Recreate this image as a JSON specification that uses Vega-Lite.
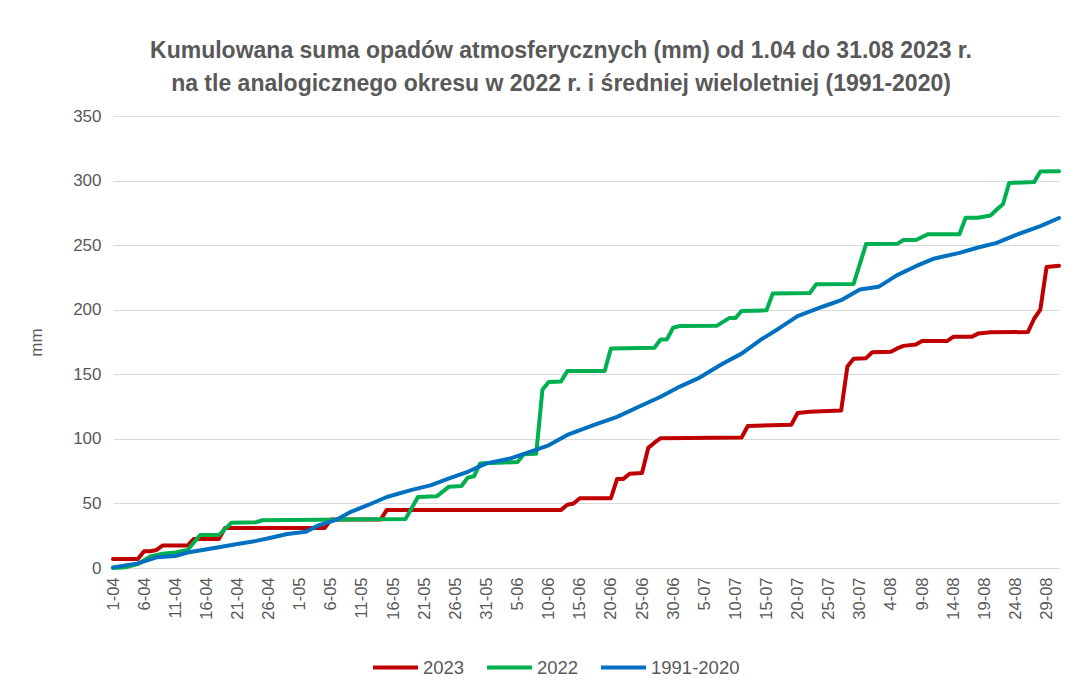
{
  "$schema": "https://vega.github.io/schema/vega-lite/v6.json",
  "autosize": {"type": "none"},
  "width": 946,
  "height": 452,
  "padding": {"left": 113, "top": 116, "right": 25, "bottom": 128},
  "background": "white",
  "title": {
    "text": ["Kumulowana suma opadów atmosferycznych (mm) od 1.04 do 31.08 2023 r.", "na tle analogicznego okresu w 2022 r. i średniej wieloletniej (1991-2020)"],
    "font": "Liberation Sans",
    "fontSize": 23,
    "fontWeight": "bold",
    "color": "#595959",
    "lineHeight": 33,
    "anchor": "middle",
    "frame": "group",
    "dx": -25,
    "offset": 11
  },
  "config": {
    "view": {"stroke": null},
    "font": "Liberation Sans"
  },
  "data": {
    "values": [
      {"s": "2023", "d": 0, "v": 7},
      {"s": "2023", "d": 4, "v": 7},
      {"s": "2023", "d": 5, "v": 13},
      {"s": "2023", "d": 6, "v": 13},
      {"s": "2023", "d": 7, "v": 14},
      {"s": "2023", "d": 8, "v": 17.5},
      {"s": "2023", "d": 12, "v": 17.5},
      {"s": "2023", "d": 13, "v": 22.5},
      {"s": "2023", "d": 17, "v": 22.5},
      {"s": "2023", "d": 18, "v": 31},
      {"s": "2023", "d": 34, "v": 31},
      {"s": "2023", "d": 35, "v": 37.5},
      {"s": "2023", "d": 43, "v": 37.5},
      {"s": "2023", "d": 44, "v": 45},
      {"s": "2023", "d": 72, "v": 45},
      {"s": "2023", "d": 73, "v": 49},
      {"s": "2023", "d": 74, "v": 50},
      {"s": "2023", "d": 75, "v": 54},
      {"s": "2023", "d": 80, "v": 54},
      {"s": "2023", "d": 81, "v": 69},
      {"s": "2023", "d": 82, "v": 69},
      {"s": "2023", "d": 83, "v": 73},
      {"s": "2023", "d": 85, "v": 73.5},
      {"s": "2023", "d": 86, "v": 93},
      {"s": "2023", "d": 87, "v": 97},
      {"s": "2023", "d": 88, "v": 100.5},
      {"s": "2023", "d": 101, "v": 101},
      {"s": "2023", "d": 102, "v": 110},
      {"s": "2023", "d": 109, "v": 111},
      {"s": "2023", "d": 110, "v": 120},
      {"s": "2023", "d": 112, "v": 121},
      {"s": "2023", "d": 117, "v": 122},
      {"s": "2023", "d": 118, "v": 156},
      {"s": "2023", "d": 119, "v": 162},
      {"s": "2023", "d": 121, "v": 162.5},
      {"s": "2023", "d": 122, "v": 167},
      {"s": "2023", "d": 125, "v": 167.5},
      {"s": "2023", "d": 126, "v": 170},
      {"s": "2023", "d": 127, "v": 172},
      {"s": "2023", "d": 129, "v": 173},
      {"s": "2023", "d": 130, "v": 175.7},
      {"s": "2023", "d": 134, "v": 175.7},
      {"s": "2023", "d": 135, "v": 179},
      {"s": "2023", "d": 138, "v": 179},
      {"s": "2023", "d": 139, "v": 181.5},
      {"s": "2023", "d": 141, "v": 182.5},
      {"s": "2023", "d": 147, "v": 182.7},
      {"s": "2023", "d": 148, "v": 193},
      {"s": "2023", "d": 149, "v": 200},
      {"s": "2023", "d": 150, "v": 233},
      {"s": "2023", "d": 152, "v": 234},

      {"s": "2022", "d": 0, "v": 0},
      {"s": "2022", "d": 2, "v": 0.5},
      {"s": "2022", "d": 4, "v": 3},
      {"s": "2022", "d": 5, "v": 6},
      {"s": "2022", "d": 6, "v": 9},
      {"s": "2022", "d": 8, "v": 11},
      {"s": "2022", "d": 10, "v": 12},
      {"s": "2022", "d": 12, "v": 14},
      {"s": "2022", "d": 14, "v": 25.5},
      {"s": "2022", "d": 17, "v": 25.5},
      {"s": "2022", "d": 19, "v": 35},
      {"s": "2022", "d": 23, "v": 35.5},
      {"s": "2022", "d": 24, "v": 37},
      {"s": "2022", "d": 47, "v": 38},
      {"s": "2022", "d": 49, "v": 55},
      {"s": "2022", "d": 52, "v": 55.5},
      {"s": "2022", "d": 54, "v": 63},
      {"s": "2022", "d": 56, "v": 63.5},
      {"s": "2022", "d": 57, "v": 70},
      {"s": "2022", "d": 58, "v": 71},
      {"s": "2022", "d": 59, "v": 81},
      {"s": "2022", "d": 65, "v": 82},
      {"s": "2022", "d": 66, "v": 88},
      {"s": "2022", "d": 68, "v": 88.5},
      {"s": "2022", "d": 69, "v": 138},
      {"s": "2022", "d": 70, "v": 144},
      {"s": "2022", "d": 72, "v": 144.5},
      {"s": "2022", "d": 73, "v": 152.5},
      {"s": "2022", "d": 79, "v": 152.5},
      {"s": "2022", "d": 80, "v": 170},
      {"s": "2022", "d": 87, "v": 170.5},
      {"s": "2022", "d": 88, "v": 177},
      {"s": "2022", "d": 89, "v": 177},
      {"s": "2022", "d": 90, "v": 186},
      {"s": "2022", "d": 91, "v": 187.3},
      {"s": "2022", "d": 97, "v": 187.5},
      {"s": "2022", "d": 99, "v": 193.5},
      {"s": "2022", "d": 100, "v": 193.5},
      {"s": "2022", "d": 101, "v": 199},
      {"s": "2022", "d": 105, "v": 199.5},
      {"s": "2022", "d": 106, "v": 212.6},
      {"s": "2022", "d": 112, "v": 213},
      {"s": "2022", "d": 113, "v": 219.8},
      {"s": "2022", "d": 119, "v": 220},
      {"s": "2022", "d": 121, "v": 250.8},
      {"s": "2022", "d": 126, "v": 251},
      {"s": "2022", "d": 127, "v": 254},
      {"s": "2022", "d": 129, "v": 254},
      {"s": "2022", "d": 131, "v": 258.5},
      {"s": "2022", "d": 136, "v": 258.5},
      {"s": "2022", "d": 137, "v": 271.2},
      {"s": "2022", "d": 139, "v": 271.2},
      {"s": "2022", "d": 141, "v": 273},
      {"s": "2022", "d": 142, "v": 277.6},
      {"s": "2022", "d": 143, "v": 281.7},
      {"s": "2022", "d": 144, "v": 298.2},
      {"s": "2022", "d": 148, "v": 298.8},
      {"s": "2022", "d": 149, "v": 307},
      {"s": "2022", "d": 152, "v": 307.3},

      {"s": "1991-2020", "d": 0, "v": 0.5},
      {"s": "1991-2020", "d": 4, "v": 3.6},
      {"s": "1991-2020", "d": 7, "v": 8.3},
      {"s": "1991-2020", "d": 10, "v": 9.3},
      {"s": "1991-2020", "d": 12, "v": 12},
      {"s": "1991-2020", "d": 17, "v": 16},
      {"s": "1991-2020", "d": 20, "v": 18.6},
      {"s": "1991-2020", "d": 23, "v": 21},
      {"s": "1991-2020", "d": 25, "v": 23},
      {"s": "1991-2020", "d": 28, "v": 26.3},
      {"s": "1991-2020", "d": 31, "v": 28},
      {"s": "1991-2020", "d": 33, "v": 33},
      {"s": "1991-2020", "d": 36, "v": 37.5},
      {"s": "1991-2020", "d": 38, "v": 43},
      {"s": "1991-2020", "d": 41, "v": 48.8},
      {"s": "1991-2020", "d": 44, "v": 55},
      {"s": "1991-2020", "d": 48, "v": 60.5},
      {"s": "1991-2020", "d": 51, "v": 64},
      {"s": "1991-2020", "d": 54, "v": 69.4},
      {"s": "1991-2020", "d": 57, "v": 74.5},
      {"s": "1991-2020", "d": 60, "v": 81},
      {"s": "1991-2020", "d": 64, "v": 85},
      {"s": "1991-2020", "d": 67, "v": 90},
      {"s": "1991-2020", "d": 70, "v": 95},
      {"s": "1991-2020", "d": 73, "v": 103},
      {"s": "1991-2020", "d": 76, "v": 108.5},
      {"s": "1991-2020", "d": 78, "v": 112},
      {"s": "1991-2020", "d": 81, "v": 117},
      {"s": "1991-2020", "d": 85, "v": 126},
      {"s": "1991-2020", "d": 88, "v": 132.6},
      {"s": "1991-2020", "d": 91, "v": 140.3},
      {"s": "1991-2020", "d": 94, "v": 146.8},
      {"s": "1991-2020", "d": 98, "v": 158.4},
      {"s": "1991-2020", "d": 101, "v": 166},
      {"s": "1991-2020", "d": 104, "v": 176.5},
      {"s": "1991-2020", "d": 107, "v": 185.5},
      {"s": "1991-2020", "d": 110, "v": 195},
      {"s": "1991-2020", "d": 114, "v": 202.3},
      {"s": "1991-2020", "d": 117, "v": 207.4},
      {"s": "1991-2020", "d": 120, "v": 215.7},
      {"s": "1991-2020", "d": 123, "v": 217.7},
      {"s": "1991-2020", "d": 126, "v": 226.8},
      {"s": "1991-2020", "d": 129, "v": 233.7},
      {"s": "1991-2020", "d": 132, "v": 239.7},
      {"s": "1991-2020", "d": 136, "v": 244},
      {"s": "1991-2020", "d": 139, "v": 248.2},
      {"s": "1991-2020", "d": 142, "v": 251.8},
      {"s": "1991-2020", "d": 145, "v": 257.7},
      {"s": "1991-2020", "d": 149, "v": 264.7},
      {"s": "1991-2020", "d": 152, "v": 271}
    ]
  },
  "mark": {"type": "line", "strokeWidth": 4, "strokeCap": "round", "strokeJoin": "round"},
  "encoding": {
    "x": {
      "field": "d",
      "type": "quantitative",
      "scale": {"domain": [0, 152], "nice": false, "zero": false},
      "axis": {
        "values": [0, 5, 10, 15, 20, 25, 30, 35, 40, 45, 50, 55, 60, 65, 70, 75, 80, 85, 90, 95, 100, 105, 110, 115, 120, 125, 130, 135, 140, 145, 150],
        "labelExpr": "timeFormat(datetime(2023, 3, 1 + datum.value), '%-d-%m')",
        "labelAngle": -90,
        "labelFontSize": 16.5,
        "labelColor": "#595959",
        "labelPadding": 9,
        "labelOverlap": false,
        "ticks": false,
        "grid": false,
        "domainColor": "#d9d9d9",
        "domainWidth": 1,
        "title": null
      }
    },
    "y": {
      "field": "v",
      "type": "quantitative",
      "scale": {"domain": [0, 350], "nice": false},
      "axis": {
        "values": [0, 50, 100, 150, 200, 250, 300, 350],
        "labelFontSize": 17,
        "labelColor": "#595959",
        "labelPadding": 12,
        "ticks": false,
        "domain": false,
        "gridColor": "#d9d9d9",
        "gridWidth": 1,
        "title": "mm",
        "titleFontSize": 17,
        "titleFontWeight": "normal",
        "titleColor": "#595959",
        "titlePadding": 27
      }
    },
    "color": {
      "field": "s",
      "type": "nominal",
      "sort": null,
      "scale": {"domain": ["2023", "2022", "1991-2020"], "range": ["#C00000", "#00B050", "#0070C0"]},
      "legend": {
        "title": null,
        "orient": "none",
        "direction": "horizontal",
        "legendX": 258,
        "legendY": 527,
        "symbolType": "stroke",
        "symbolSize": 2025,
        "symbolStrokeWidth": 4,
        "labelFontSize": 18.5,
        "labelColor": "#595959",
        "labelOffset": 3,
        "columnPadding": 14
      }
    }
  }
}
